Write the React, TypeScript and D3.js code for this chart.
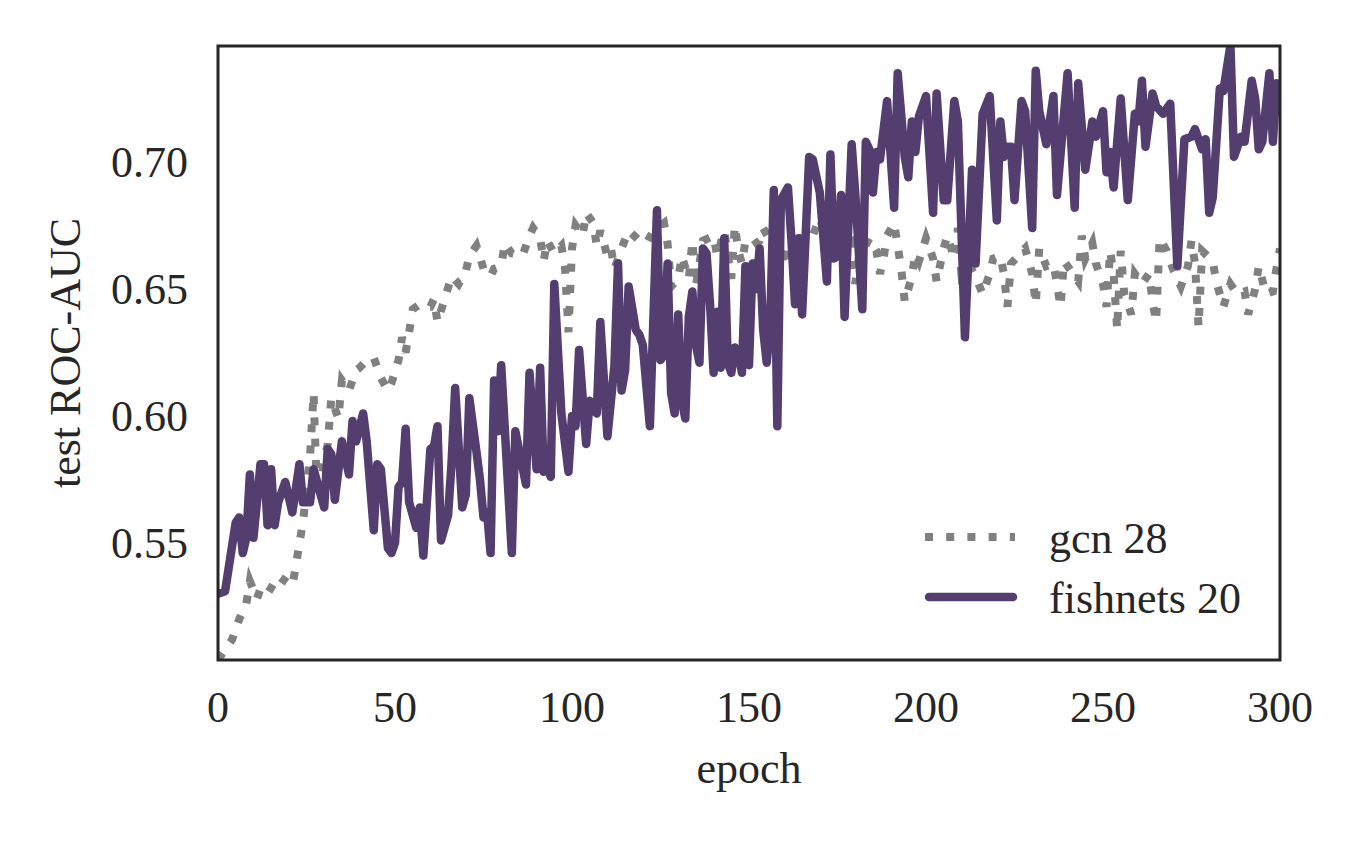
import * as React from "react";
import * as d3 from "d3";

// epochs / test ROC-AUC
const gcnEpochs: number[] = [
  0, 1, 4, 6, 8, 9, 11, 12, 14, 17, 21, 22, 23, 24, 25, 26, 27, 28, 29, 31,
  32, 34, 35, 37, 39, 40, 42, 44, 46, 48, 49, 51, 52, 53, 54, 55, 57, 59, 60, 61,
  62, 64, 66, 68, 70, 71, 73, 75, 77, 78, 80, 81, 83, 86, 88, 89, 91, 92, 93, 95,
  97, 98, 99, 100, 101, 103, 104, 106, 107, 108, 110, 111, 112, 114, 116, 119, 121, 123, 126, 127,
  128, 130, 131, 133, 134, 135, 137, 140, 141, 143, 145, 146, 147, 148, 149, 151, 153, 154, 156, 158,
  160, 161, 164, 168, 170, 171, 173, 176, 179, 180, 181, 184, 186, 187, 188, 189, 191, 192, 193, 194,
  196, 197, 198, 200, 202, 203, 205, 206, 208, 209, 210, 212, 214, 216, 218, 219, 221, 222, 223, 224,
  228, 230, 231, 232, 234, 236, 237, 238, 239, 241, 243, 244, 245, 247, 248, 250, 251, 252, 253, 254,
  255, 256, 258, 259, 261, 263, 264, 265, 266, 268, 270, 272, 274, 275, 276, 277, 278, 281, 282, 284,
  286, 288, 290, 291, 293, 294, 296, 298, 299, 300,
];
const gcnAuc: number[] = [
  0.504, 0.506, 0.512, 0.52, 0.526, 0.535, 0.528, 0.532, 0.53, 0.537, 0.533, 0.541, 0.55, 0.558, 0.571, 0.584, 0.609, 0.568, 0.575, 0.589,
  0.607, 0.599, 0.614, 0.61, 0.618, 0.619, 0.622, 0.623, 0.615, 0.61, 0.613, 0.622, 0.631, 0.625, 0.633, 0.642, 0.644, 0.643, 0.643, 0.646,
  0.637, 0.646, 0.655, 0.652, 0.657, 0.663, 0.667, 0.658, 0.655, 0.658, 0.659, 0.668, 0.664, 0.663, 0.671, 0.674, 0.67, 0.661, 0.669, 0.664,
  0.667, 0.659, 0.633, 0.666, 0.675, 0.671, 0.68, 0.676, 0.667, 0.673, 0.663, 0.666, 0.658, 0.666, 0.673, 0.669, 0.668, 0.673, 0.676, 0.668,
  0.651, 0.654, 0.663, 0.654, 0.669, 0.651, 0.669, 0.671, 0.663, 0.673, 0.654, 0.675, 0.665, 0.66, 0.669, 0.667, 0.669, 0.674, 0.669, 0.676,
  0.659, 0.667, 0.67, 0.671, 0.678, 0.673, 0.669, 0.668, 0.669, 0.652, 0.662, 0.67, 0.665, 0.656, 0.662, 0.671, 0.676, 0.667, 0.658, 0.645,
  0.655, 0.664, 0.661, 0.67, 0.662, 0.653, 0.666, 0.671, 0.662, 0.674, 0.656, 0.66, 0.655, 0.648, 0.656, 0.662, 0.663, 0.656, 0.643, 0.66,
  0.666, 0.656, 0.644, 0.666, 0.659, 0.66, 0.652, 0.643, 0.661, 0.657, 0.653, 0.671, 0.662, 0.668, 0.66, 0.652, 0.643, 0.665, 0.656, 0.634,
  0.665, 0.648, 0.64, 0.656, 0.652, 0.656, 0.645, 0.637, 0.67, 0.665, 0.657, 0.651, 0.659, 0.669, 0.66, 0.635, 0.665, 0.661, 0.653, 0.643,
  0.652, 0.648, 0.649, 0.64, 0.65, 0.659, 0.648, 0.649, 0.658, 0.666,
];

const fishEpochs: number[] = [
  0, 2, 3, 5, 6, 7, 8, 9, 10, 11, 12, 13, 14, 15, 16, 17, 19, 21, 23, 24,
  26, 27, 28, 30, 31, 32, 33, 35, 37, 38, 39, 41, 42, 44, 45, 46, 48, 49, 50, 51,
  52, 53, 54, 56, 57, 58, 60, 61, 62, 63, 65, 66, 67, 69, 70, 71, 73, 74, 75, 76,
  77, 78, 79, 80, 83, 84, 86, 87, 88, 90, 91, 92, 93, 94, 95, 97, 99, 100, 101, 102,
  104, 105, 107, 108, 110, 112, 113, 114, 115, 116, 118, 119, 120, 122, 124, 125, 126, 127, 128, 129,
  130, 131, 132, 133, 134, 135, 136, 137, 138, 139, 140, 141, 142, 143, 144, 145, 146, 147, 148, 149,
  150, 151, 152, 153, 154, 155, 156, 157, 158, 159, 161, 162, 163, 164, 165, 167, 168, 170, 172, 173,
  174, 175, 176, 177, 179, 180, 182, 183, 184, 185, 186, 187, 189, 191, 192, 194, 195, 196, 197, 198,
  200, 202, 203, 205, 206, 208, 209, 211, 213, 214, 216, 218, 220, 221, 222, 223, 224, 225, 227, 228,
  230, 231, 232, 234, 236, 237, 240, 242, 243, 245, 247, 248, 250, 251, 252, 253, 255, 257, 259, 260,
  261, 262, 264, 265, 267, 269, 271, 273, 275, 276, 278, 279, 280, 281, 283, 284, 286, 287, 289, 290,
  292, 293, 294, 295, 297, 298, 299, 300,
];
const fishAuc: number[] = [
  0.53, 0.531, 0.54, 0.558, 0.56, 0.546, 0.552, 0.577, 0.552, 0.566, 0.581, 0.581, 0.557, 0.579, 0.557, 0.566, 0.574, 0.562, 0.581, 0.566,
  0.566, 0.579, 0.574, 0.564, 0.587, 0.585, 0.567, 0.59, 0.577, 0.598, 0.59, 0.601, 0.59, 0.555, 0.581, 0.579, 0.548, 0.546, 0.55, 0.572,
  0.574, 0.595, 0.566, 0.556, 0.564, 0.545, 0.587, 0.588, 0.596, 0.551, 0.561, 0.582, 0.611, 0.564, 0.569, 0.607, 0.586, 0.575, 0.56, 0.562,
  0.546, 0.614, 0.594, 0.62, 0.546, 0.594, 0.58, 0.573, 0.617, 0.579, 0.619, 0.578, 0.58, 0.576, 0.652, 0.601, 0.578, 0.6, 0.596, 0.626,
  0.589, 0.606, 0.601, 0.637, 0.592, 0.62, 0.66, 0.61, 0.618, 0.651, 0.634, 0.632, 0.628, 0.596, 0.681, 0.622, 0.624, 0.66, 0.609, 0.601,
  0.64, 0.606, 0.599, 0.639, 0.649, 0.628, 0.621, 0.666, 0.664, 0.644, 0.617, 0.641, 0.619, 0.67, 0.621, 0.617, 0.627, 0.625, 0.617, 0.659,
  0.62, 0.66, 0.65, 0.666, 0.634, 0.621, 0.637, 0.689, 0.596, 0.685, 0.69, 0.669, 0.644, 0.67, 0.64, 0.702, 0.701, 0.688, 0.653, 0.703,
  0.662, 0.663, 0.687, 0.639, 0.707, 0.688, 0.642, 0.708, 0.705, 0.688, 0.704, 0.701, 0.724, 0.682, 0.735, 0.702, 0.694, 0.716, 0.704, 0.718,
  0.726, 0.68, 0.727, 0.685, 0.685, 0.724, 0.716, 0.631, 0.697, 0.66, 0.719, 0.726, 0.677, 0.716, 0.702, 0.706, 0.706, 0.685, 0.724, 0.72,
  0.674, 0.736, 0.72, 0.707, 0.726, 0.687, 0.735, 0.682, 0.731, 0.697, 0.716, 0.71, 0.72, 0.696, 0.704, 0.69, 0.725, 0.685, 0.719, 0.716,
  0.732, 0.706, 0.727, 0.722, 0.719, 0.723, 0.659, 0.709, 0.71, 0.713, 0.705, 0.709, 0.68, 0.686, 0.729, 0.728, 0.746, 0.702, 0.71, 0.708,
  0.732, 0.725, 0.705, 0.708, 0.735, 0.708, 0.731, 0.72,
];

const xTicks = [0, 50, 100, 150, 200, 250, 300];
const yTicks = [0.55, 0.6, 0.65, 0.7];
const legendLabels = ["gcn 28", "fishnets 20"];

const W = 1361;
const H = 841;
const left = 218;
const right = 1280;
const top = 46;
const bottom = 660;
const ink = "#262626";
const gcnColor = "#808080";
const fishColor = "#533e6f";
const font = "'Liberation Serif', 'DejaVu Serif', serif";
const fs = 44;

const x = d3.scaleLinear().domain([0, 300]).range([left, right]);
const y = d3.scaleLinear().domain([0.5039, 0.7457]).range([bottom, top]);

type Pt = [number, number];
const gcnPts: Pt[] = gcnEpochs.map((e, i) => [e, gcnAuc[i]]);
const fishPts: Pt[] = fishEpochs.map((e, i) => [e, fishAuc[i]]);

const line = d3
  .line<Pt>()
  .x(d => x(d[0]))
  .y(d => y(d[1]));

export default function App() {
  return (
    <svg
      width={W}
      height={H}
      style={{ position: "absolute", left: 0, top: 0, background: "#fff" }}
    >
      <defs>
        <clipPath id="plot">
          <rect x={left} y={top} width={right - left} height={bottom - top} />
        </clipPath>
      </defs>
      <rect width={W} height={H} fill="#fff" />
      <g clipPath="url(#plot)">
        <path
          d={line(gcnPts) || ""}
          fill="none"
          stroke={gcnColor}
          strokeWidth={8}
          strokeDasharray="8 13.2"
        />
        <path
          d={line(fishPts) || ""}
          fill="none"
          stroke={fishColor}
          strokeWidth={8.5}
          strokeLinejoin="round"
          strokeLinecap="round"
        />
      </g>
      <rect
        x={left}
        y={top}
        width={right - left}
        height={bottom - top}
        fill="none"
        stroke={ink}
        strokeWidth={3}
      />
      <g fontFamily={font} fontSize={fs} fill={ink}>
        {xTicks.map(t => (
          <text key={"x" + t} x={x(t)} y={722} textAnchor="middle">
            {t}
          </text>
        ))}
        {yTicks.map(t => (
          <text key={"y" + t} x={188} y={y(t) + 15} textAnchor="end">
            {t.toFixed(2)}
          </text>
        ))}
        <text x={(left + right) / 2} y={783} textAnchor="middle">
          epoch
        </text>
        <text
          transform={`translate(80, ${(top + bottom) / 2}) rotate(-90)`}
          textAnchor="middle"
        >
          test ROC-AUC
        </text>
        <line
          x1={925}
          x2={1015}
          y1={537}
          y2={537}
          stroke={gcnColor}
          strokeWidth={8}
          strokeDasharray="8 13.2"
        />
        <line
          x1={929}
          x2={1013}
          y1={597}
          y2={597}
          stroke={fishColor}
          strokeWidth={8.5}
          strokeLinecap="round"
        />
        <text x={1049} y={553}>
          {legendLabels[0]}
        </text>
        <text x={1049} y={613}>
          {legendLabels[1]}
        </text>
      </g>
    </svg>
  );
}
